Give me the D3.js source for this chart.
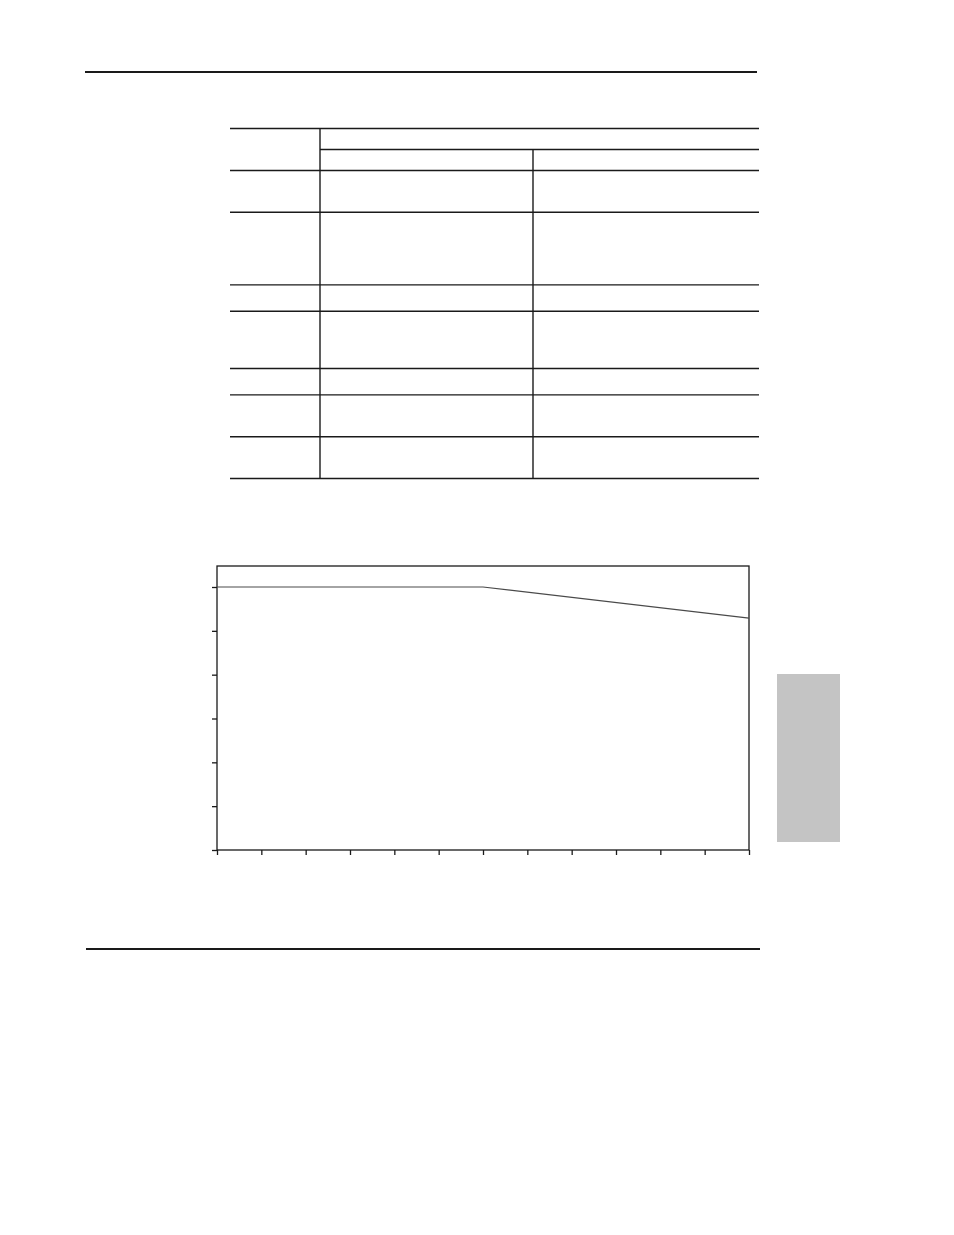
<!DOCTYPE html>
<html>
<head>
<meta charset="utf-8">
<script src="https://cdn.jsdelivr.net/npm/d3@7"></script>
<style>
  body { margin: 0; background: #fff; }
  svg { display: block; }
</style>
</head>
<body>
<div id="page"></div>
<script>
// Line series (x position index, value)
const seriesX = [0, 6, 12];
const seriesY = [6, 6, 5.29];

// Axis ticks (no labels printed on the page)
const xTicks = d3.range(0, 13);
const yTicks = d3.range(0, 7);

// Table: text lines per body row (cells are empty on the page)
const rowLines = [2, 4, 1, 3, 1, 2, 2];

const width = 954;
const height = 1235;

const svg = d3.select('#page').append('svg')
    .attr('width', width)
    .attr('height', height);

// Page rules
svg.append('line')
    .attr('x1', 85).attr('x2', 757)
    .attr('y1', 72).attr('y2', 72)
    .attr('stroke', '#1a1a1a')
    .attr('stroke-width', 2);

svg.append('line')
    .attr('x1', 86).attr('x2', 760)
    .attr('y1', 949).attr('y2', 949)
    .attr('stroke', '#1a1a1a')
    .attr('stroke-width', 2);

// Gray side tab
svg.append('rect')
    .attr('x', 777)
    .attr('y', 674)
    .attr('width', 63)
    .attr('height', 168)
    .attr('fill', '#c4c4c4');

// Table
function createTable() {
    const left = 230, right = 759, col1 = 320, col2 = 533;
    const top = 128.5, sub = 149.5, bodyTop = 170.5;
    const lineH = 15.4, pad = 11;

    const g = svg.append('g')
        .attr('stroke', '#1a1a1a')
        .attr('stroke-width', 1.4);

    // row boundaries
    const bounds = [bodyTop];
    rowLines.forEach(n => bounds.push(bounds[bounds.length - 1] + pad + lineH * n));
    const bottom = bounds[bounds.length - 1];

    g.append('line').attr('x1', left).attr('x2', right).attr('y1', top).attr('y2', top);
    g.append('line').attr('x1', col1).attr('x2', right).attr('y1', sub).attr('y2', sub);

    g.selectAll('line.row')
        .data(bounds)
        .enter().append('line')
        .attr('class', 'row')
        .attr('x1', left).attr('x2', right)
        .attr('y1', d => d).attr('y2', d => d);

    g.append('line').attr('x1', col1).attr('x2', col1).attr('y1', top).attr('y2', bottom);
    g.append('line').attr('x1', col2).attr('x2', col2).attr('y1', sub).attr('y2', bottom);
}

// Line chart
function createLineChart() {
    const plot = { left: 217, right: 749, top: 566, bottom: 850 };

    const xScale = d3.scaleLinear()
        .domain([0, 12])
        .range([plot.left, plot.right]);

    const yScale = d3.scaleLinear()
        .domain([0, 6])
        .range([plot.bottom, 587]);

    // plot frame
    svg.append('rect')
        .attr('x', plot.left)
        .attr('y', plot.top)
        .attr('width', plot.right - plot.left)
        .attr('height', plot.bottom - plot.top)
        .attr('fill', 'none')
        .attr('stroke', '#1a1a1a')
        .attr('stroke-width', 1.3);

    const xAxis = d3.axisBottom(xScale)
        .tickValues(xTicks)
        .tickSize(5)
        .tickFormat('');

    const yAxis = d3.axisLeft(yScale)
        .tickValues(yTicks)
        .tickSize(5)
        .tickFormat('');

    const gx = svg.append('g')
        .attr('transform', `translate(0, ${plot.bottom})`)
        .call(xAxis);

    const gy = svg.append('g')
        .attr('transform', `translate(${plot.left}, 0)`)
        .call(yAxis);

    [gx, gy].forEach(g => {
        g.select('.domain').remove();
        g.selectAll('.tick line')
            .attr('stroke', '#1a1a1a')
            .attr('stroke-width', 1.3);
    });

    const points = seriesX.map((x, i) => ({ x: x, y: seriesY[i] }));

    const line = d3.line()
        .x(d => xScale(d.x))
        .y(d => yScale(d.y));

    svg.append('path')
        .datum(points)
        .attr('d', line)
        .attr('fill', 'none')
        .attr('stroke', '#4a4a4a')
        .attr('stroke-width', 1.2);
}

createTable();
createLineChart();
</script>
</body>
</html>
